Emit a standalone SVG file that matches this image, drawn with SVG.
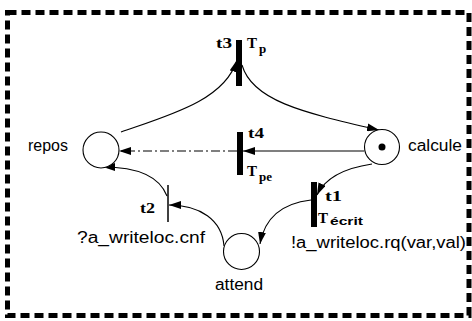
<svg xmlns="http://www.w3.org/2000/svg" width="472" height="321" viewBox="0 0 472 321">
<style>
.pl{fill:#fff;stroke:#000;stroke-width:1.1}
.tr{fill:#000}
.arc{fill:none;stroke:#000;stroke-width:1.1}
.dd{stroke-dasharray:9,3,2,3}
.lab{font-family:"Liberation Sans",Arial,sans-serif;font-size:16px;fill:#000}
.tl{font-family:"Liberation Serif","Times New Roman",serif;font-weight:bold;font-size:15px;fill:#000}
.sub{font-family:"Liberation Serif","Times New Roman",serif;font-weight:bold;font-size:13px;fill:#000}
.subs{font-family:"Liberation Sans",Arial,sans-serif;font-weight:bold;font-size:11px;fill:#000}
</style>
<defs>
<marker id="ah" viewBox="0 0 12 8" refX="12" refY="4" markerWidth="12" markerHeight="8" markerUnits="userSpaceOnUse" orient="auto">
<path d="M0,0 L12,4 L0,8 Z" fill="#000"/>
</marker>
</defs>
<rect x="7.5" y="12.5" width="461.5" height="303" fill="none" stroke="#000" stroke-width="5" stroke-dasharray="9,5"/>
<g id="connectors">
<path class="arc" d="M121,132 C170,115 225,100 237,60" marker-end="url(#ah)"/>
<path class="arc" d="M242,65 C252,100 300,112 379,130" marker-end="url(#ah)"/>
<path class="arc" d="M364,151 L243,151" marker-end="url(#ah)"/>
<path class="arc dd" d="M237,151 L119,151" marker-end="url(#ah)"/>
<path class="arc" d="M372,164 C345,168 325,178 317,195" marker-end="url(#ah)"/>
<path class="arc" d="M311,200 C285,203 265,215 260,244" marker-end="url(#ah)"/>
<path class="arc" d="M224,246 C222,220 200,205 169,205" marker-end="url(#ah)"/>
<path class="arc" d="M167,196 C160,178 140,167 103,167" marker-end="url(#ah)"/>
</g>
<g id="repos">
<circle class="pl" cx="101" cy="150" r="18"/>
<text class="lab" x="28" y="151" textLength="40" lengthAdjust="spacingAndGlyphs">repos</text>
</g>
<g id="calcule">
<circle class="pl" cx="382" cy="147" r="17.5"/>
<circle cx="382" cy="147" r="3.5" fill="#000"/>
<text class="lab" x="408" y="151" textLength="54" lengthAdjust="spacingAndGlyphs">calcule</text>
</g>
<g id="attend">
<circle class="pl" cx="241.5" cy="251.5" r="18"/>
<text class="lab" x="215" y="290" textLength="48" lengthAdjust="spacingAndGlyphs">attend</text>
</g>
<g id="t3">
<rect class="tr" x="236" y="40" width="6" height="46"/>
<text class="tl" x="216" y="48" textLength="16" lengthAdjust="spacingAndGlyphs">t3</text>
<text class="tl" x="247" y="48">T</text>
<text class="sub" x="259" y="53">p</text>
</g>
<g id="t4">
<rect class="tr" x="237" y="132" width="6" height="43"/>
<text class="tl" x="248" y="138" textLength="16" lengthAdjust="spacingAndGlyphs">t4</text>
<text class="tl" x="247" y="176">T</text>
<text class="sub" x="259" y="181">pe</text>
</g>
<g id="t1">
<rect class="tr" x="311" y="182" width="6" height="45"/>
<text class="tl" x="325" y="201" textLength="17" lengthAdjust="spacingAndGlyphs">t1</text>
<text class="tl" x="318" y="223">T</text>
<text class="subs" x="330" y="225" textLength="33" lengthAdjust="spacingAndGlyphs">écrit</text>
<text class="lab" x="291" y="248" textLength="175" lengthAdjust="spacingAndGlyphs">!a_writeloc.rq(var,val)</text>
</g>
<g id="t2">
<line x1="168" y1="185" x2="168" y2="222" stroke="#000" stroke-width="1.5"/>
<text class="tl" x="140" y="213" textLength="15" lengthAdjust="spacingAndGlyphs">t2</text>
<text class="lab" x="77" y="243" textLength="128" lengthAdjust="spacingAndGlyphs">?a_writeloc.cnf</text>
</g>
</svg>
